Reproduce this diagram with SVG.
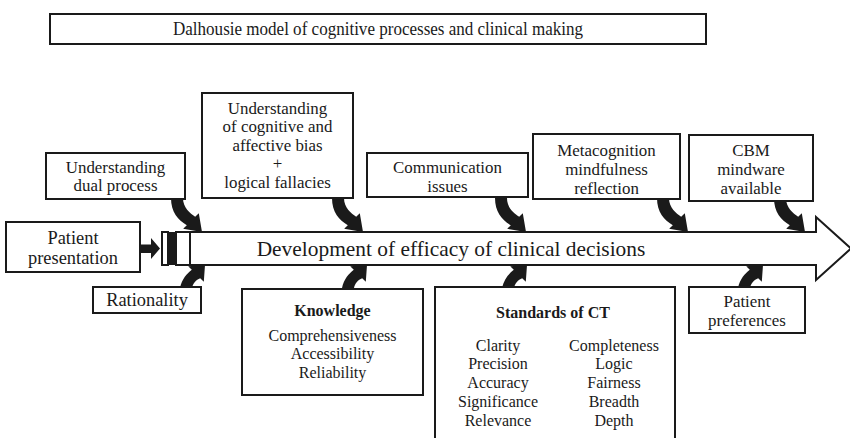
<svg xmlns="http://www.w3.org/2000/svg" xmlns:xlink="http://www.w3.org/1999/xlink" width="850" height="438" viewBox="0 0 850 438" font-family="'Liberation Serif', serif">
  <style>
    .box { fill: #ffffff; stroke: #1a1a1a; stroke-width: 2; }
    .t { font-family: 'Liberation Serif', 'Times New Roman', serif; font-size: 16.9px; fill: #1a1a1a; text-anchor: middle; }
    .s16 { font-size: 16px; }
    .big { font-size: 18.4px; }
    .b { font-weight: bold; }
    .arr { fill: #1a1a1a; }
  </style>
  <defs>
    <!-- curved block arrow coming down from a box, tip at the origin -->
    <path id="arrDown" d="M-31,-34 C-31,-20 -24,-12 -15.2,-6.8 L-18.8,-3.2 L0,0 L-3.2,-18.8 L-6.8,-15.2 C-12,-19 -19,-24 -19,-34 Z"/>
    <!-- curved block arrow rising from a box, tip at the origin -->
    <path id="arrUp" d="M-25,23 C-23,14 -18,8.5 -13.2,4.8 L-16.8,1.2 L0,0 L-1.2,16.8 L-4.8,13.2 C-9,15 -12,18 -13,23 Z"/>
  </defs>
  <rect width="850" height="438" fill="#ffffff"/>

  <!-- title -->
  <g id="title">
    <rect class="box" x="50" y="14" width="656" height="30"/>
    <text class="t" x="378" y="35" style="font-size:17.9px" textLength="410" lengthAdjust="spacingAndGlyphs">Dalhousie model of cognitive processes and clinical making</text>
  </g>

  <!-- main development arrow -->
  <g id="main-arrow">
    <rect class="box" x="162" y="232" width="6" height="33"/>
    <rect x="168" y="232" width="8" height="33" fill="#1a1a1a"/>
    <path class="box" d="M176,232 L816,232 L816,217 L851,248.5 L816,280 L816,265 L176,265 Z"/>
    <line x1="190" y1="232" x2="190" y2="265" stroke="#1a1a1a" stroke-width="2"/>
    <text class="t" x="451" y="256" style="font-size:21.4px">Development of efficacy of clinical decisions</text>
  </g>

  <!-- connectors -->
  <g id="connectors" class="arr">
    <path d="M140,244.5 L151,244.5 L151,238 L160,248.5 L151,259 L151,253 L140,253 Z"/>
    <use xlink:href="#arrDown" transform="translate(202,232)"/>
    <use xlink:href="#arrDown" transform="translate(363,232)"/>
    <use xlink:href="#arrDown" transform="translate(526,232)"/>
    <use xlink:href="#arrDown" transform="translate(688,232)"/>
    <use xlink:href="#arrDown" transform="translate(805,232)"/>
    <use xlink:href="#arrUp" transform="translate(205,265)"/>
    <use xlink:href="#arrUp" transform="translate(367,265)"/>
    <use xlink:href="#arrUp" transform="translate(527,265)"/>
    <use xlink:href="#arrUp" transform="translate(763,265)"/>
  </g>

  <g id="patient-presentation">
    <rect class="box" x="6" y="222" width="134" height="50"/>
    <text class="t big" x="73" y="244">Patient</text>
    <text class="t big" x="73" y="264">presentation</text>
  </g>

  <g id="rationality">
    <rect class="box" x="93" y="287" width="108" height="26"/>
    <text class="t big" x="147" y="306">Rationality</text>
  </g>

  <g id="dual-process">
    <rect class="box" x="46" y="153" width="139" height="46"/>
    <text class="t" x="115.5" y="173">Understanding</text>
    <text class="t" x="115.5" y="191">dual process</text>
  </g>

  <g id="cognitive-bias">
    <rect class="box" x="202" y="93" width="151" height="105"/>
    <text class="t" x="277.5" y="114">Understanding</text>
    <text class="t" x="277.5" y="132">of cognitive and</text>
    <text class="t" x="277.5" y="151">affective bias</text>
    <text class="t" x="277.5" y="169">+</text>
    <text class="t" x="277.5" y="188">logical fallacies</text>
  </g>

  <g id="communication">
    <rect class="box" x="367" y="153" width="161" height="44"/>
    <text class="t" x="447.5" y="173">Communication</text>
    <text class="t" x="447.5" y="192">issues</text>
  </g>

  <g id="metacognition">
    <rect class="box" x="533" y="134" width="147" height="65"/>
    <text class="t" x="606.5" y="156">Metacognition</text>
    <text class="t" x="606.5" y="175">mindfulness</text>
    <text class="t" x="606.5" y="194">reflection</text>
  </g>

  <g id="cbm">
    <rect class="box" x="689" y="135" width="124" height="66"/>
    <text class="t" x="751" y="156">CBM</text>
    <text class="t" x="751" y="175">mindware</text>
    <text class="t" x="751" y="194">available</text>
  </g>

  <g id="knowledge">
    <rect class="box" x="242" y="289" width="181" height="106"/>
    <text class="t s16 b" x="332.5" y="316">Knowledge</text>
    <text class="t s16" x="332.5" y="341">Comprehensiveness</text>
    <text class="t s16" x="332.5" y="359">Accessibility</text>
    <text class="t s16" x="332.5" y="378">Reliability</text>
  </g>

  <g id="standards">
    <rect class="box" x="435" y="287" width="240" height="160"/>
    <text class="t s16 b" x="553" y="318">Standards of CT</text>
    <text class="t s16" x="498" y="351">Clarity</text>
    <text class="t s16" x="498" y="369">Precision</text>
    <text class="t s16" x="498" y="388">Accuracy</text>
    <text class="t s16" x="498" y="407">Significance</text>
    <text class="t s16" x="498" y="426">Relevance</text>
    <text class="t s16" x="614" y="351">Completeness</text>
    <text class="t s16" x="614" y="369">Logic</text>
    <text class="t s16" x="614" y="388">Fairness</text>
    <text class="t s16" x="614" y="407">Breadth</text>
    <text class="t s16" x="614" y="426">Depth</text>
  </g>

  <g id="patient-preferences">
    <rect class="box" x="689" y="287" width="116" height="46"/>
    <text class="t" x="747" y="307">Patient</text>
    <text class="t" x="747" y="326">preferences</text>
  </g>
</svg>
